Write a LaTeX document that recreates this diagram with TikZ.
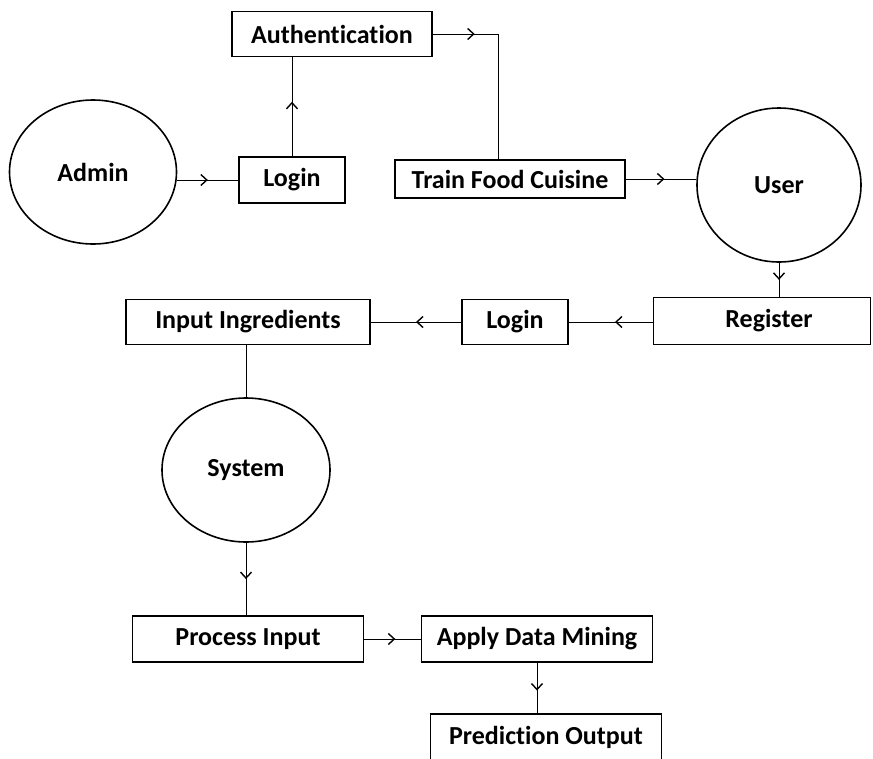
\documentclass[tikz,border=0pt]{standalone}
\usepackage{fontspec}
\setmainfont{Carlito}[Ligatures=NoCommon]
\usetikzlibrary{shapes.geometric,decorations.markings,arrows.meta}
\tikzset{
  box/.style={draw,line width=1.2pt,font=\fontsize{26}{30}\selectfont\bfseries,inner sep=0pt},
  blob/.style={draw,ellipse,line width=1.6pt,font=\fontsize{26}{30}\selectfont\bfseries,inner sep=0pt},
  arrowat/.style={postaction={decorate},decoration={markings,mark=at position #1 with {\arrow[line width=1.4pt]{Straight Barb[length=6pt,width=11pt]}}}},
  link/.style={line width=1pt}
}
\begin{document}
\begin{tikzpicture}[x=1pt,y=-1pt]
\useasboundingbox (0,0) rectangle (873,758);
\node[box,minimum width=200,minimum height=45] (auth) at (332,34){Authentication};
\node[blob,minimum width=167,minimum height=144] (admin) at (93,172){Admin};
\node[box,minimum width=106,minimum height=46] (login1) at (292,180){Login};
\node[box,minimum width=230,minimum height=38] (train) at (510,179){Train Food Cuisine};
\node[blob,minimum width=164,minimum height=154] (user) at (779,185){User};
\node[box,minimum width=217,minimum height=47] (register) at (762,321){\hspace*{14pt}Register};
\node[box,minimum width=106,minimum height=45] (login2) at (515,322){Login};
\node[box,minimum width=244,minimum height=45] (input) at (248,322){Input Ingredients};
\node[blob,minimum width=168,minimum height=144] (system) at (246,470){System};
\node[box,minimum width=231,minimum height=46] (process) at (248,639){Process Input};
\node[box,minimum width=231,minimum height=46] (apply) at (537,639){Apply Data Mining};
\node[box,minimum width=231,minimum height=46] (predict) at (546,737){Prediction Output};
% admin side
\draw[link,arrowat=0.5] (admin.east |- login1.west) -- (login1.west);
\draw[link,arrowat=0.55] (login1.north) -- (login1.north |- auth.south);
\draw[link,arrowat=0.22] (auth.east) -- ++(66,0) coordinate (bend) -- (bend |- train.north);
\draw[link,arrowat=0.55] (train.east) -- (user.west |- train.east);
% user side
\draw[link,arrowat=0.5] (user.south) -- (user.south |- register.north);
\draw[link,arrowat=0.45] (register.west |- login2.east) -- (login2.east);
\draw[link,arrowat=0.5] (login2.west) -- (input.east);
\draw[link] (system.north) -- (system.north |- input.south);
\draw[link,arrowat=0.5] (system.south) -- (system.south |- process.north);
\draw[link,arrowat=0.55] (process.east) -- (apply.west);
\draw[link,arrowat=0.55] (apply.south) -- (apply.south |- predict.north);
\end{tikzpicture}
\end{document}
